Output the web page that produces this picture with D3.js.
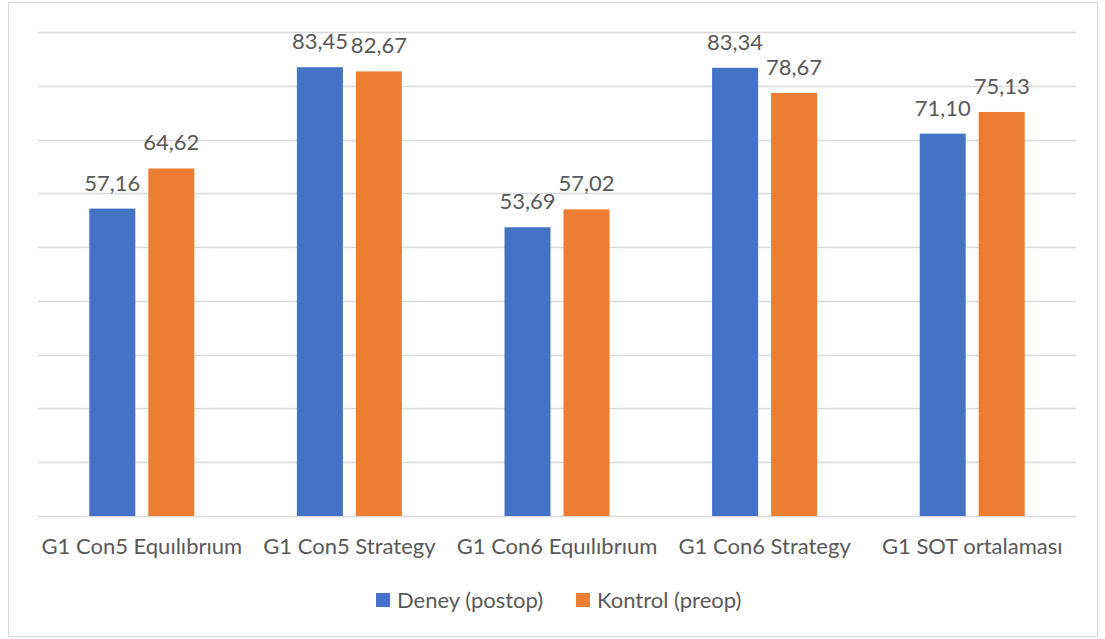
<!DOCTYPE html>
<html>
<head>
<meta charset="utf-8">
<script src="https://cdn.jsdelivr.net/npm/d3@7"></script>
<style>
  html, body { margin: 0; padding: 0; background: #fff; }
  svg { display: block; }
</style>
</head>
<body>
<svg id="chart" width="1105" height="639"></svg>
<script>
// Category names and the two series
const categories = [
  "G1 Con5 Equılıbrıum",
  "G1 Con5 Strategy",
  "G1 Con6 Equılıbrıum",
  "G1 Con6 Strategy",
  "G1 SOT ortalaması"
];
const seriesNames = ["Deney (postop)", "Kontrol (preop)"];
const deney = [57.16, 83.45, 53.69, 83.34, 71.10];
const kontrol = [64.62, 82.67, 57.02, 78.67, 75.13];
const gridTicks = [0, 10, 20, 30, 40, 50, 60, 70, 80, 90];

const colors = ["#4472C4", "#ED7D31"];
const fontFamily = "Lato, 'Open Sans', sans-serif";
const textColor = "#595959";

const svg = d3.select("#chart");

// outer chart frame
svg.append("rect")
  .attr("x", 8.5).attr("y", 2.5)
  .attr("width", 1089).attr("height", 634)
  .attr("fill", "#fff")
  .attr("stroke", "#d9d9d9").attr("stroke-width", 1);

const plot = { left: 38, right: 1076, top: 32, bottom: 516 };

const x = d3.scaleBand()
  .domain(categories)
  .range([plot.left, plot.right])
  .paddingInner(0).paddingOuter(0);

const y = d3.scaleLinear()
  .domain([0, 90])
  .range([plot.bottom, plot.top]);

// horizontal gridlines
svg.append("g")
  .selectAll("line")
  .data(gridTicks)
  .join("line")
  .attr("x1", plot.left).attr("x2", plot.right)
  .attr("y1", d => Math.round(y(d)) + 0.5)
  .attr("y2", d => Math.round(y(d)) + 0.5)
  .attr("stroke", "#d9d9d9")
  .attr("stroke-width", 1.3);

// bars
const barW = 46, gap = 13;
const rows = categories.map((c, i) => ({ cat: c, vals: [deney[i], kontrol[i]] }));

const groups = svg.append("g")
  .selectAll("g")
  .data(rows)
  .join("g")
  .attr("transform", d => `translate(${x(d.cat) + x.bandwidth() / 2},0)`);

groups.selectAll("rect")
  .data(d => d.vals.map((v, k) => ({ v, k })))
  .join("rect")
  .attr("x", d => d.k === 0 ? -barW - gap / 2 : gap / 2)
  .attr("width", barW)
  .attr("y", d => y(d.v))
  .attr("height", d => y(0) - y(d.v))
  .attr("fill", d => colors[d.k]);

// value labels
const fmt = v => v.toFixed(2).replace(".", ",");
groups.selectAll("text")
  .data(d => d.vals.map((v, k) => ({ v, k })))
  .join("text")
  .attr("x", d => (d.k === 0 ? -barW - gap / 2 : gap / 2) + barW / 2)
  .attr("y", d => y(d.v) - 18)
  .attr("text-anchor", "middle")
  .attr("font-family", fontFamily)
  .attr("font-size", 22)
  .attr("fill", textColor)
  .text(d => fmt(d.v));

// category axis labels
const xAxis = d3.axisBottom(x).tickSize(0).tickPadding(0);
const gx = svg.append("g")
  .attr("transform", `translate(0,${plot.bottom})`)
  .call(xAxis);
gx.select(".domain").remove();
gx.selectAll("text")
  .attr("y", 38)
  .attr("dy", 0)
  .attr("font-family", fontFamily)
  .attr("font-size", 22)
  .attr("fill", textColor);

// legend
const legendItems = [
  { name: seriesNames[0], color: colors[0], x: 376 },
  { name: seriesNames[1], color: colors[1], x: 576 }
];
const lg = svg.append("g")
  .selectAll("g")
  .data(legendItems)
  .join("g")
  .attr("transform", d => `translate(${d.x},593)`);
lg.append("rect")
  .attr("width", 14).attr("height", 14)
  .attr("fill", d => d.color);
lg.append("text")
  .attr("x", 21).attr("y", 15)
  .attr("font-family", fontFamily)
  .attr("font-size", 22)
  .attr("fill", textColor)
  .text(d => d.name);
</script>
</body>
</html>
